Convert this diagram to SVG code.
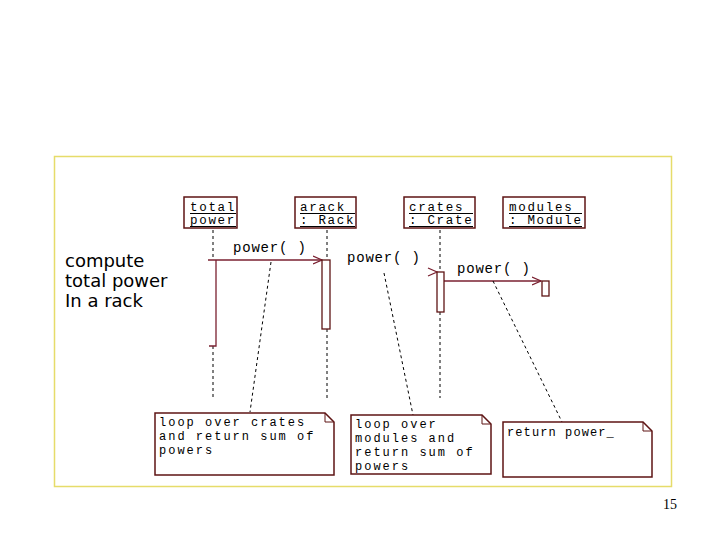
<svg xmlns="http://www.w3.org/2000/svg" width="720" height="540" viewBox="0 0 720 540">
<style>
.mono{font-family:"Liberation Mono","Courier New",monospace;font-size:14px;letter-spacing:0.8px;fill:#000}
.note{font-family:"Liberation Mono","Courier New",monospace;font-size:12px;letter-spacing:2px;fill:#000}
.obj{font-family:"Liberation Mono","Courier New",monospace;font-size:12.5px;letter-spacing:1.7px;fill:#000}
.box{fill:#fff;stroke:#5e1414;stroke-width:1.5}
.act{fill:#fff;stroke:#5e1414;stroke-width:1.3}
.msg{stroke:#7a2030;stroke-width:1.3;fill:none}
.ul{stroke:#000;stroke-width:1}
.life{stroke:#000;stroke-width:1;stroke-dasharray:3,3;fill:none}
.anch{stroke:#000;stroke-width:1;stroke-dasharray:3,3;fill:none}
</style>
<defs>
<marker id="open" markerWidth="10" markerHeight="10" refX="9" refY="5" orient="auto" markerUnits="userSpaceOnUse">
<path d="M0,1 L9,5 L0,9" fill="none" stroke="#7a2030" stroke-width="1.3"/>
</marker>
</defs>
<rect width="720" height="540" fill="#fff"/>
<rect x="54.5" y="156.5" width="617" height="330" fill="none" stroke="#e6dc6a" stroke-width="1.5"/>

<g id="label-compute" font-family="'DejaVu Sans',Verdana,sans-serif" font-size="18" fill="#000">
<text x="65" y="267">compute</text>
<text x="65" y="287">total power</text>
<text x="65" y="307">In a rack</text>
</g>

<g id="connectors">
<line class="life" x1="213" y1="230" x2="213" y2="259"/>
<line class="life" x1="213" y1="346" x2="213" y2="398"/>
<line class="life" x1="327" y1="230" x2="327" y2="259"/>
<line class="life" x1="327" y1="329" x2="327" y2="398"/>
<line class="life" x1="440" y1="230" x2="440" y2="271"/>
<line class="life" x1="440" y1="312" x2="440" y2="398"/>
<path class="msg" d="M216,260 L216,346 L209,346"/>
<line class="msg" x1="208" y1="260" x2="322" y2="260" marker-end="url(#open)"/>
<path d="M428,268 L437,272 L428,276" fill="none" stroke="#7a2030" stroke-width="1.3"/>
<line class="msg" x1="444" y1="281" x2="541" y2="281" marker-end="url(#open)"/>
<line class="anch" x1="271" y1="262" x2="250" y2="412"/>
<line class="anch" x1="384" y1="273" x2="413" y2="415"/>
<line class="anch" x1="493" y1="281" x2="562" y2="422"/>
<text class="mono" x="233" y="252">power( )</text>
<text class="mono" x="347" y="262">power( )</text>
<text class="mono" x="457" y="273">power( )</text>
</g>

<g id="node-total">
<rect class="box" x="184" y="197" width="53" height="31"/>
<text class="obj" x="190" y="211">total</text>
<line class="ul" x1="190" y1="213.5" x2="236" y2="213.5"/>
<text class="obj" x="190" y="224">power</text>
<line class="ul" x1="190" y1="226.5" x2="236" y2="226.5"/>
</g>

<g id="node-arack">
<rect class="box" x="295" y="197" width="61" height="31"/>
<text class="obj" x="300" y="211">arack</text>
<line class="ul" x1="300" y1="213.5" x2="355" y2="213.5"/>
<text class="obj" x="300" y="224">: Rack</text>
<line class="ul" x1="300" y1="226.5" x2="355" y2="226.5"/>
</g>

<g id="node-crates">
<rect class="box" x="404" y="197" width="71" height="31"/>
<text class="obj" x="409" y="211">crates</text>
<line class="ul" x1="409" y1="213.5" x2="473" y2="213.5"/>
<text class="obj" x="409" y="224">: Crate</text>
<line class="ul" x1="409" y1="226.5" x2="473" y2="226.5"/>
</g>

<g id="node-modules">
<rect class="box" x="503" y="197" width="82" height="31"/>
<text class="obj" x="509" y="211">modules</text>
<line class="ul" x1="509" y1="213.5" x2="582" y2="213.5"/>
<text class="obj" x="509" y="224">: Module</text>
<line class="ul" x1="509" y1="226.5" x2="582" y2="226.5"/>
</g>

<g id="activations">
<rect class="act" x="322" y="260" width="8" height="69"/>
<rect class="act" x="437" y="272" width="7" height="40"/>
<rect class="act" x="542" y="281" width="7" height="15"/>
</g>

<g id="note-1">
<path class="box" d="M155,413 L325,413 L334,422 L334,475 L155,475 Z"/>
<path d="M325,413 L325,422 L334,422" fill="none" stroke="#5e1414" stroke-width="1"/>
<text class="note" x="159" y="426">loop over crates</text>
<text class="note" x="159" y="440">and return sum of</text>
<text class="note" x="159" y="454">powers</text>
</g>

<g id="note-2">
<path class="box" d="M351,415 L482,415 L491,424 L491,474 L351,474 Z"/>
<path d="M482,415 L482,424 L491,424" fill="none" stroke="#5e1414" stroke-width="1"/>
<text class="note" x="355" y="428">loop over</text>
<text class="note" x="355" y="442">modules and</text>
<text class="note" x="355" y="456">return sum of</text>
<text class="note" x="355" y="470">powers</text>
</g>

<g id="note-3">
<path class="box" d="M503,422 L643,422 L652,431 L652,477 L503,477 Z"/>
<path d="M643,422 L643,431 L652,431" fill="none" stroke="#5e1414" stroke-width="1"/>
<text class="note" x="507" y="436" style="letter-spacing:1.1px">return power_</text>
</g>

<text x="663" y="509" font-family="'Liberation Serif','Times New Roman',serif" font-size="14" fill="#000">15</text>
</svg>
